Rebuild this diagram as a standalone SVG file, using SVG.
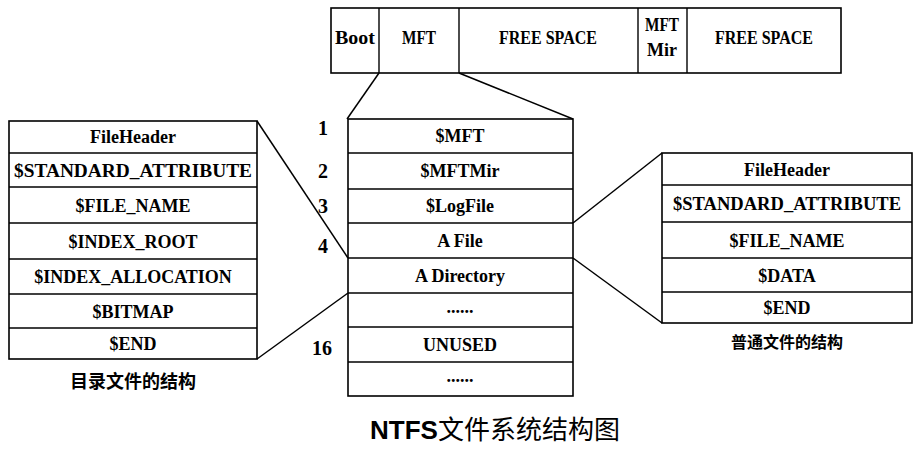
<svg xmlns="http://www.w3.org/2000/svg" width="918" height="456" viewBox="0 0 918 456">
<style>
.box{fill:#fff;stroke:#000;stroke-width:1.6}
.div{stroke:#000;stroke-width:1.4}
.t{font-family:"Liberation Serif","Times New Roman",serif;font-weight:bold;font-size:18px;fill:#000;text-anchor:middle}
.n{font-size:20px}
.cn{font-family:"Noto Sans CJK SC",sans-serif;font-weight:bold;fill:#000;text-anchor:middle}
.con{stroke:#000;stroke-width:1.5;fill:none}
.title{font-family:"Liberation Sans","Noto Sans CJK SC",sans-serif;font-size:26px;fill:#000;text-anchor:middle}
</style>
<rect width="918" height="456" fill="#fff"/>

<g id="disk">
<rect class="box" x="331" y="8" width="510" height="65"/>
<line class="div" x1="379" y1="8" x2="379" y2="73"/>
<line class="div" x1="459" y1="8" x2="459" y2="73"/>
<line class="div" x1="638" y1="8" x2="638" y2="73"/>
<line class="div" x1="687" y1="8" x2="687" y2="73"/>
<text class="t" x="355" y="44" textLength="40" lengthAdjust="spacingAndGlyphs">Boot</text>
<text class="t" x="419" y="44" textLength="34" lengthAdjust="spacingAndGlyphs">MFT</text>
<text class="t" x="548" y="44" textLength="98" lengthAdjust="spacingAndGlyphs">FREE SPACE</text>
<text class="t" x="662" y="31" textLength="34" lengthAdjust="spacingAndGlyphs">MFT</text>
<text class="t" x="662" y="56">Mir</text>
<text class="t" x="764" y="44" textLength="98" lengthAdjust="spacingAndGlyphs">FREE SPACE</text>
</g>

<g id="mft">
<rect class="box" x="348" y="119" width="225" height="277"/>
<line class="div" x1="348" y1="153" x2="573" y2="153"/>
<line class="div" x1="348" y1="189" x2="573" y2="189"/>
<line class="div" x1="348" y1="223" x2="573" y2="223"/>
<line class="div" x1="348" y1="258" x2="573" y2="258"/>
<line class="div" x1="348" y1="293" x2="573" y2="293"/>
<line class="div" x1="348" y1="327" x2="573" y2="327"/>
<line class="div" x1="348" y1="362" x2="573" y2="362"/>
<text class="t" x="460" y="142">$MFT</text>
<text class="t" x="460" y="177">$MFTMir</text>
<text class="t" x="460" y="212">$LogFile</text>
<text class="t" x="460" y="247">A File</text>
<text class="t" x="460" y="282">A Directory</text>
<text class="t" x="460" y="313">......</text>
<text class="t" x="460" y="351">UNUSED</text>
<text class="t" x="460" y="382">......</text>
<text class="t n" x="323" y="135">1</text>
<text class="t n" x="323" y="178">2</text>
<text class="t n" x="323" y="213">3</text>
<text class="t n" x="323" y="253">4</text>
<text class="t n" x="322" y="355">16</text>
</g>

<g id="dir">
<rect class="box" x="9" y="121" width="248" height="238"/>
<line class="div" x1="9" y1="153" x2="257" y2="153"/>
<line class="div" x1="9" y1="187" x2="257" y2="187"/>
<line class="div" x1="9" y1="223" x2="257" y2="223"/>
<line class="div" x1="9" y1="259" x2="257" y2="259"/>
<line class="div" x1="9" y1="294" x2="257" y2="294"/>
<line class="div" x1="9" y1="328" x2="257" y2="328"/>
<text class="t" x="133" y="143">FileHeader</text>
<text class="t" x="133" y="177" textLength="238" lengthAdjust="spacingAndGlyphs">$STANDARD_ATTRIBUTE</text>
<text class="t" x="133" y="212">$FILE_NAME</text>
<text class="t" x="133" y="248">$INDEX_ROOT</text>
<text class="t" x="133" y="283">$INDEX_ALLOCATION</text>
<text class="t" x="133" y="318">$BITMAP</text>
<text class="t" x="133" y="350">$END</text>
<text class="cn" x="133" y="388" font-size="18">目录文件的结构</text>
</g>

<g id="file">
<rect class="box" x="662" y="153" width="250" height="170"/>
<line class="div" x1="662" y1="185" x2="912" y2="185"/>
<line class="div" x1="662" y1="222" x2="912" y2="222"/>
<line class="div" x1="662" y1="258" x2="912" y2="258"/>
<line class="div" x1="662" y1="292" x2="912" y2="292"/>
<text class="t" x="787" y="176">FileHeader</text>
<text class="t" x="787" y="210" textLength="228" lengthAdjust="spacingAndGlyphs">$STANDARD_ATTRIBUTE</text>
<text class="t" x="787" y="247">$FILE_NAME</text>
<text class="t" x="787" y="282">$DATA</text>
<text class="t" x="787" y="314">$END</text>
<text class="cn" x="787" y="348" font-size="16">普通文件的结构</text>
</g>

<g id="connectors">
<line class="con" x1="379" y1="73" x2="347" y2="119"/>
<line class="con" x1="459" y1="73" x2="573" y2="119"/>
<line class="con" x1="257" y1="121" x2="348" y2="258"/>
<line class="con" x1="257" y1="359" x2="348" y2="293"/>
<line class="con" x1="662" y1="153" x2="573" y2="223"/>
<line class="con" x1="662" y1="323" x2="573" y2="258"/>
</g>

<text class="title" x="495" y="439"><tspan font-weight="bold">NTFS</tspan>文件系统结构图</text>
</svg>
